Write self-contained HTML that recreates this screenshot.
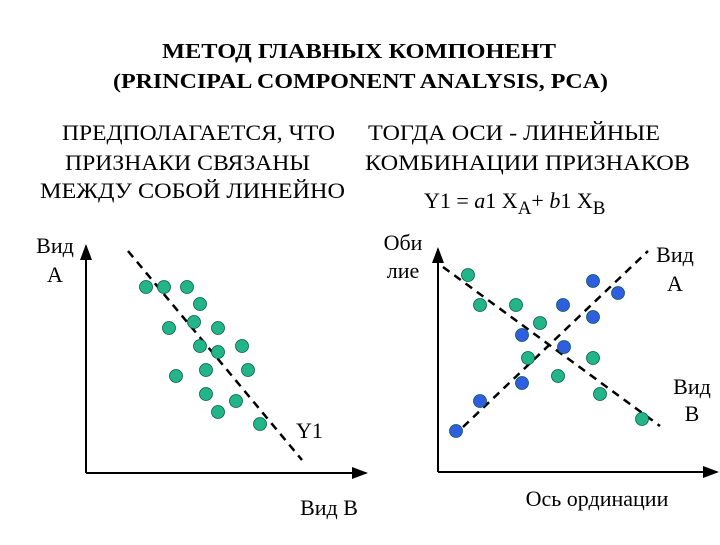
<!DOCTYPE html>
<html><head><meta charset="utf-8"><style>
body{margin:0;background:#fff}
svg text{font-family:"Liberation Serif",serif;fill:#000}
</style></head><body>
<svg width="720" height="540" viewBox="0 0 720 540">
<defs><marker id="ar" markerWidth="8" markerHeight="8" refX="7" refY="4" orient="auto"><path d="M0,1 L8,4 L0,7z" fill="#000"/></marker></defs>
<text x="162" y="58" font-size="21" font-weight="bold" textLength="394" lengthAdjust="spacingAndGlyphs">МЕТОД ГЛАВНЫХ КОМПОНЕНТ</text>
<text x="113" y="88" font-size="21" font-weight="bold" textLength="495" lengthAdjust="spacingAndGlyphs">(PRINCIPAL COMPONENT ANALYSIS, PCA)</text>
<g font-size="22">
<text x="62" y="140" textLength="273" lengthAdjust="spacingAndGlyphs">ПРЕДПОЛАГАЕТСЯ, ЧТО</text>
<text x="65" y="170" textLength="245" lengthAdjust="spacingAndGlyphs">ПРИЗНАКИ СВЯЗАНЫ</text>
<text x="40" y="198" textLength="305" lengthAdjust="spacingAndGlyphs">МЕЖДУ СОБОЙ ЛИНЕЙНО</text></g>
<g font-size="22">
<text x="368" y="140" textLength="292" lengthAdjust="spacingAndGlyphs">ТОГДА ОСИ - ЛИНЕЙНЫЕ</text>
<text x="365" y="170" textLength="325" lengthAdjust="spacingAndGlyphs">КОМБИНАЦИИ ПРИЗНАКОВ</text></g>
<text x="424" y="208" font-size="22">Y1 = <tspan font-style="italic">a</tspan>1 X<tspan font-size="19" dy="6">A</tspan><tspan dy="-6" font-size="22">+ </tspan><tspan font-style="italic">b</tspan>1 X<tspan font-size="19" dy="6">B</tspan></text>
<g font-size="22">
<text x="55" y="253" text-anchor="middle">Вид</text>
<text x="55" y="282" text-anchor="middle">А</text>
<text x="403" y="250" text-anchor="middle">Оби</text>
<text x="403" y="278" text-anchor="middle">лие</text>
<text x="675" y="262" text-anchor="middle">Вид</text>
<text x="675" y="291" text-anchor="middle">А</text>
<text x="692" y="394" text-anchor="middle">Вид</text>
<text x="692" y="421" text-anchor="middle">В</text>
<text x="296" y="438">Y1</text>
<text x="329" y="515" text-anchor="middle">Вид В</text>
<text x="597" y="506" text-anchor="middle">Ось ординации</text>
</g>
<g id="chart"></g>
</svg>
<script>
// left plot data (units from axis origin)
const leftX=[60,78,101,114,83,108,132,114,132,156,90,120,162,120,150,132,174];
const leftY=[186,186,186,169,145,151,145,127,121,127,97,103,103,79,72,61,49];
const leftLine=[[42,222],[216,13]];
// right plot data
const greenX=[30,42,78,102,90,120,155,162,204];
const greenY=[197,167,167,149,114,96,114,78,53];
const blueX=[155,180,125,155,84,126,84,42,18];
const blueY=[191,179,167,155,137,125,89,71,41];
const greenLine=[[5,205],[222,46]];
const blueLine=[[25,45],[210,221]];
const svgNS="http://www.w3.org/2000/svg",g=document.getElementById('chart');
function sx(o){return v=>o+v} function sy(o){return v=>o-v}
const L={x:sx(86),y:sy(473)},R={x:sx(438),y:sy(472)};
function mk(t,a){const e=document.createElementNS(svgNS,t);for(const k in a)e.setAttribute(k,a[k]);g.appendChild(e);return e}
function axes(s,top,right,n){
 const y=mk('line',{x1:s.x(0),y1:s.y(0),x2:s.x(0),y2:top,stroke:'#000','stroke-width':2,'marker-end':'url(#ar)'});
 
 
 const x=mk('line',{x1:s.x(0),y1:s.y(0),x2:right,y2:s.y(0),stroke:'#000','stroke-width':2,'marker-end':'url(#ar)'});
 
 
}
function dline(s,l,n){
 const e=mk('line',{x1:s.x(l[0][0]),y1:s.y(l[0][1]),x2:s.x(l[1][0]),y2:s.y(l[1][1]),stroke:'#000','stroke-width':2.5,'stroke-dasharray':'8,6'});
 
 
}
function pts(s,X,Y,fill,n){X.forEach((v,i)=>{
 const c=mk('circle',{cx:s.x(v),cy:s.y(Y[i]),r:6.5,fill:fill,stroke:'#0a5a45','stroke-width':0.8});
 
 
})}
axes(L,246,366,'left');
axes(R,249,717,'right');
dline(L,leftLine,'y1-axis-line');
pts(L,leftX,leftY,'#22b58a','left-point');
dline(R,greenLine,'axis-b-line');
dline(R,blueLine,'axis-a-line');
pts(R,greenX,greenY,'#22b58a','green-point');
pts(R,blueX,blueY,'#2f5fe0','blue-point');
</script>
</body></html>
